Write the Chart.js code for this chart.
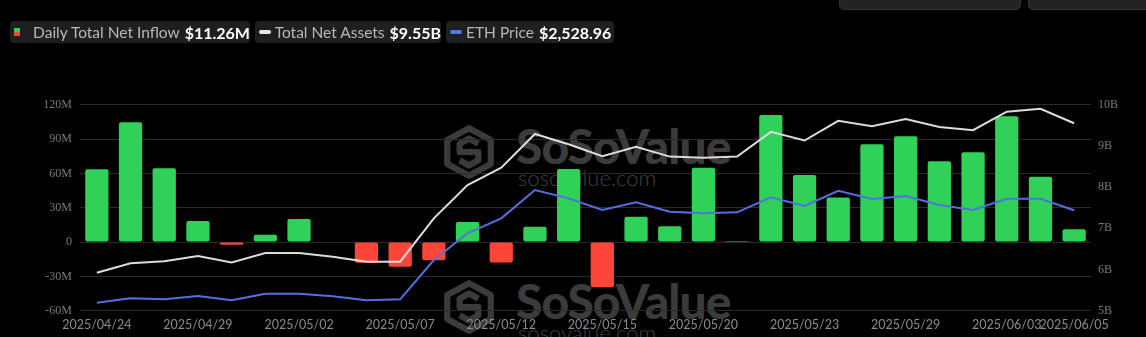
<!DOCTYPE html>
<html>
<head>
<meta charset="utf-8">
<script src="https://cdn.jsdelivr.net/npm/chart.js@4.4.1/dist/chart.umd.min.js"></script>
<style>
  html, body { margin:0; padding:0; background:#000; }
  body { width:1146px; height:337px; position:relative; overflow:hidden; font-family: Lato, "Noto Sans", sans-serif; }
  #wrap { position:absolute; left:0; top:0; width:1146px; height:337px; }
  canvas { position:absolute; left:0; top:0; z-index:2; }
  .wm { position:absolute; z-index:1; color:#3b3b3b; }
  .wm .logo { position:absolute; left:0; top:0; }
  .wm .name { position:absolute; left:74px; top:-7px; font-family: Lato, sans-serif; font-weight:900; font-size:48px; letter-spacing:-1px; white-space:nowrap; }
  .wm .url { position:absolute; left:76px; top:40px; font-family: Lato, sans-serif; font-weight:300; font-size:22px; white-space:nowrap; color:#404040; }
  .legend { position:absolute; top:21px; left:10px; height:22px; z-index:3; }
  .item { position:absolute; top:0; height:22px; background:#1f1f21; border-radius:4px; display:flex; align-items:center; white-space:nowrap; }
  .item .lab { color:#b8b8b8; font-size:15.5px; margin-right:5px; }
  .item .val { color:#fff; font-size:16px; font-weight:700; }
  .sq { width:7px; height:8px; margin:0 13px 0 4px; background:linear-gradient(#2ecf57 50%, #ff453a 50%); }
  .pill { width:12px; height:4px; border-radius:2px; margin:0 4px 0 4px; }
  .topbox { position:absolute; top:-20px; height:28px; background:#232325; border:1px solid #333; border-radius:5px; z-index:3; }
</style>
</head>
<body>
<div id="wrap">
  <div class="topbox" style="left:839px;width:180px"></div>
  <div class="topbox" style="left:1028px;width:130px"></div>

  <div class="legend">
    <div class="item" style="left:0;width:240px"><div class="sq"></div><span class="lab">Daily Total Net Inflow</span><span class="val">$11.26M</span></div>
    <div class="item" style="left:245px;width:186px"><div class="pill" style="background:#e6e6e6"></div><span class="lab">Total Net Assets</span><span class="val">$9.55B</span></div>
    <div class="item" style="left:436px;width:168px"><div class="pill" style="background:#5b78e6"></div><span class="lab">ETH Price</span><span class="val">$2,528.96</span></div>
  </div>

  <div class="wm" style="left:442px;top:124px">
    <svg class="logo" width="54" height="56" viewBox="0 0 52 54"><g fill="none" stroke="#3b3b3b" stroke-width="6" stroke-linejoin="round"><path d="M26 4 L47 15.5 L47 38.5 L26 50 L5 38.5 L5 15.5 Z"/><path d="M35 19 L26 14 L17 19 L17 27 L35 27 L35 35 L26 40 L17 35"/></g></svg>
    <div class="name">SoSoValue</div>
    <div class="url">sosovalue.com</div>
  </div>
  <div class="wm" style="left:442px;top:279px">
    <svg class="logo" width="54" height="56" viewBox="0 0 52 54"><g fill="none" stroke="#3b3b3b" stroke-width="6" stroke-linejoin="round"><path d="M26 4 L47 15.5 L47 38.5 L26 50 L5 38.5 L5 15.5 Z"/><path d="M35 19 L26 14 L17 19 L17 27 L35 27 L35 35 L26 40 L17 35"/></g></svg>
    <div class="name">SoSoValue</div>
    <div class="url">sosovalue.com</div>
  </div>

  <canvas id="c" width="1146" height="337"></canvas>
</div>
<script>
const dates = ["2025/04/24","2025/04/25","2025/04/28","2025/04/29","2025/04/30","2025/05/01","2025/05/02","2025/05/05","2025/05/06","2025/05/07","2025/05/08","2025/05/09","2025/05/12","2025/05/13","2025/05/14","2025/05/15","2025/05/16","2025/05/19","2025/05/20","2025/05/21","2025/05/22","2025/05/23","2025/05/27","2025/05/28","2025/05/29","2025/05/30","2025/06/02","2025/06/03","2025/06/04","2025/06/05"];
// Daily total net inflow, millions USD
const netInflowM = [63.5,104.6,64.4,18.4,-2.4,6.4,20.1,0,-18.1,-21.6,-16,17.5,-17.8,13.4,63.8,-39.6,22.1,13.7,65,0.8,111,58.6,39,85.4,92.4,70.5,78.4,109.9,57.1,11.26];
// Total net assets, billions USD
const netAssetsB = [5.92,6.15,6.20,6.33,6.17,6.40,6.40,6.31,6.19,6.19,7.24,8.05,8.47,9.29,9.04,8.75,8.98,8.74,8.71,8.74,9.34,9.13,9.61,9.48,9.65,9.46,9.38,9.83,9.90,9.55];
// ETH price, USD
const ethPrice = [1766,1802,1794,1821,1786,1840,1840,1819,1786,1794,2118,2339,2462,2696,2627,2531,2594,2517,2504,2512,2636,2564,2690,2622,2647,2572,2531,2624,2624,2529];
// tick labels shown on x axis
const shownDates = ["2025/04/24","2025/04/29","2025/05/02","2025/05/07","2025/05/12","2025/05/15","2025/05/20","2025/05/23","2025/05/29","2025/06/03","2025/06/05"];
const leftTicks = [-60,-30,0,30,60,90,120];
const rightTicks = [5,6,7,8,9,10];

const GREEN = '#2fd158', RED = '#ff453a';

new Chart(document.getElementById('c'), {
  data: {
    labels: dates,
    datasets: [
      { type:'line', data: netAssetsB, yAxisID:'y1', borderColor:'#dcdcdc', borderWidth:2, pointRadius:0, tension:0, order:0 },
      { type:'line', data: ethPrice, yAxisID:'y2', borderColor:'#5470df', borderWidth:2, pointRadius:0, tension:0, order:0 },
      { type:'bar', data: netInflowM, yAxisID:'y', backgroundColor: netInflowM.map(v => v >= 0 ? GREEN : RED),
        barPercentage:0.69, categoryPercentage:1, borderRadius:2, borderSkipped:false, order:1 }
    ]
  },
  options: {
    responsive:false, animation:false,
    layout: { padding: { top:104.7, left:0, right:0, bottom:0 } },
    plugins: { legend:{display:false}, tooltip:{enabled:false} },
    scales: {
      x: {
        grid:{display:false, drawTicks:false}, border:{display:false},
        ticks:{ autoSkip:false, maxRotation:0, minRotation:0, padding:7, color:'#8c8c8c', font:{family:'Lato', size:12.5},
          callback:function(v,i){ const l=dates[i]; return shownDates.includes(l) ? l : ''; } },
        afterFit: s => { s.height = 26.3; }
      },
      y: {
        position:'left', min:-60, max:120,
        afterBuildTicks: s => { s.ticks = leftTicks.map(v => ({value:v})); },
        grid:{ color:'#2b2b2b', lineWidth:1, drawTicks:false }, border:{display:false},
        ticks:{ padding:8, color:'#7a7a7a', font:{family:'Liberation Serif', size:12}, callback: v => v === 0 ? '0' : v + 'M' },
        afterFit: s => { s.width = 80; }
      },
      y1: {
        position:'right', min:5, max:10,
        afterBuildTicks: s => { s.ticks = rightTicks.map(v => ({value:v})); },
        grid:{ display:false, drawTicks:false }, border:{display:false},
        ticks:{ padding:7, color:'#7a7a7a', font:{family:'Liberation Serif', size:12}, callback: v => v + 'B' },
        afterFit: s => { s.width = 55; }
      },
      y2: { display:false, min:1700, max:3400 }
    }
  }
});
</script>
</body>
</html>
